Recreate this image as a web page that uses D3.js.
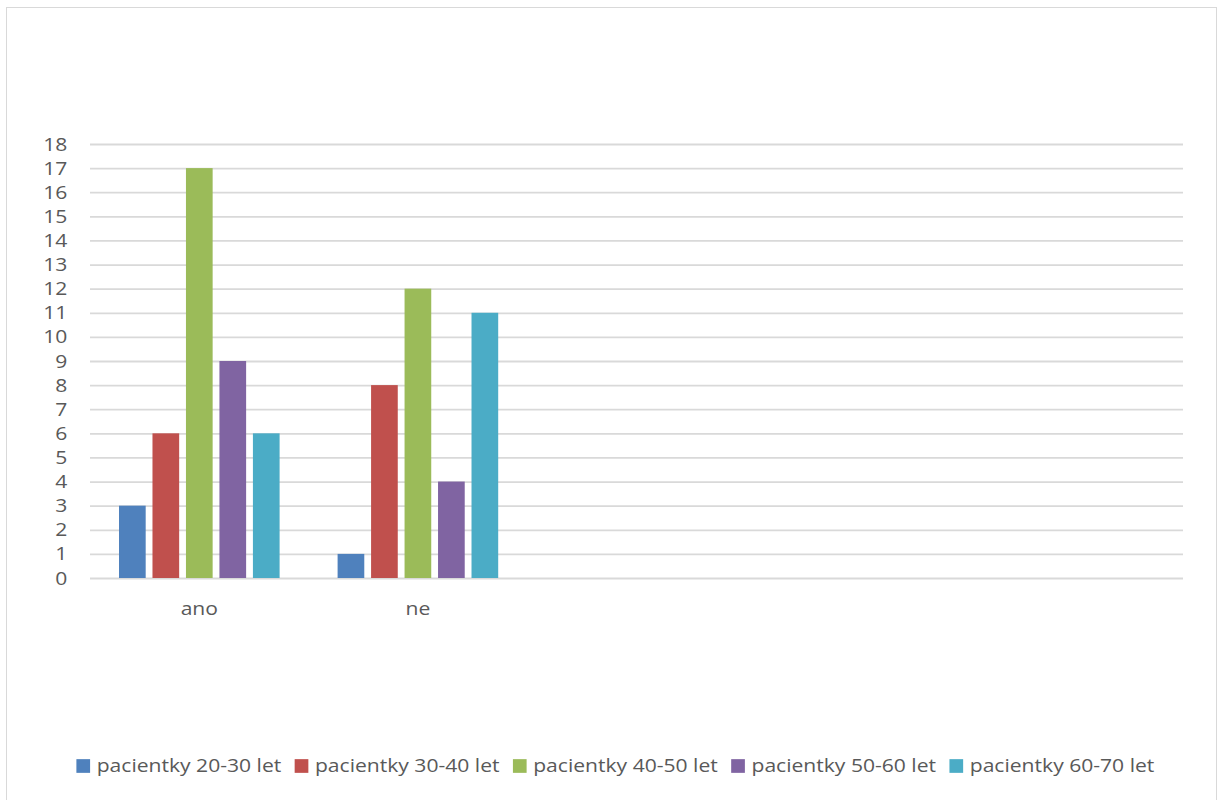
<!DOCTYPE html>
<html>
<head>
<meta charset="utf-8">
<script src="https://cdn.jsdelivr.net/npm/d3@7"></script>
<style>
  html, body { margin: 0; padding: 0; background: #fff; }
  svg { display: block; font-family: "Open Sans", "Noto Sans", sans-serif; }
</style>
</head>
<body>
<svg id="chart" width="1222" height="800"></svg>
<script>
// Answer categories (the last three slots are empty placeholders)
const categories = ["ano", "ne", "", " ", "  "];
// Age groups shown as series
const seriesNames = ["pacientky 20-30 let", "pacientky 30-40 let", "pacientky 40-50 let", "pacientky 50-60 let", "pacientky 60-70 let"];
// Counts per series, one value per category (empty categories have no bars)
const values20_30 = [3, 1];
const values30_40 = [6, 8];
const values40_50 = [17, 12];
const values50_60 = [9, 4];
const values60_70 = [6, 11];
const yTicks = d3.range(0, 19);

const seriesValues = [values20_30, values30_40, values40_50, values50_60, values60_70];
const colors = ["#4F81BD", "#C0504D", "#9BBB59", "#8064A2", "#4BACC6"];
const textColor = "#595959";
const fontSize = "19px";
const stretch = 1.11;   // text is drawn slightly widened

const svg = d3.select("#chart");

// outer frame
svg.append("rect")
  .attr("x", 6.5).attr("y", 7.5)
  .attr("width", 1210).attr("height", 820)
  .attr("fill", "#fff").attr("stroke", "#D9D9D9").attr("stroke-width", 1);

const plot = { left: 90, right: 1183, top: 144, bottom: 578 };

const y = d3.scaleLinear().domain([0, 18]).range([plot.bottom, plot.top]);
const x0 = d3.scaleBand().domain(categories).range([plot.left, plot.right]).padding(0);
const groupPad = 29;
const x1 = d3.scaleBand().domain(d3.range(seriesNames.length))
  .range([groupPad, x0.bandwidth() - groupPad]).paddingInner(0.203).paddingOuter(0);

// gridlines
const grid = svg.append("g")
  .attr("transform", `translate(${plot.left},0)`)
  .call(d3.axisLeft(y).tickValues(yTicks).tickSize(-(plot.right - plot.left)).tickFormat(""));
grid.select(".domain").remove();
grid.selectAll(".tick line").attr("stroke", "#D9D9D9").attr("stroke-width", 1.8);

// y tick labels
const yAxis = svg.append("g")
  .attr("transform", `translate(${plot.left},0)`)
  .call(d3.axisLeft(y).tickValues(yTicks).tickSize(0).tickPadding(20.5));
yAxis.select(".domain").remove();
yAxis.selectAll("text")
  .attr("fill", textColor)
  .attr("transform", `scale(${stretch},1)`)
  .style("font-size", fontSize).style("font-family", "'Open Sans', sans-serif");

// bars
categories.forEach((cat, ci) => {
  seriesValues.forEach((vals, si) => {
    const v = vals[ci];
    if (v === undefined) return;
    svg.append("rect")
      .attr("x", x0(cat) + x1(si))
      .attr("y", y(v))
      .attr("width", x1.bandwidth())
      .attr("height", y(0) - y(v))
      .attr("fill", colors[si]);
  });
});

// category labels
const xAxis = svg.append("g")
  .attr("transform", `translate(0,${plot.bottom})`)
  .call(d3.axisBottom(x0).tickSize(0).tickPadding(24));
xAxis.select(".domain").remove();
xAxis.selectAll("text")
  .attr("fill", textColor)
  .attr("transform", `scale(${stretch},1)`)
  .style("font-size", fontSize).style("font-family", "'Open Sans', sans-serif");

// legend
const legend = svg.append("g");
const sq = 13.7, gapText = 6.6, gapItem = 13.4;
let cursor = 0;
seriesNames.forEach((name, i) => {
  const g = legend.append("g").attr("transform", `translate(${cursor},0)`);
  g.append("rect").attr("x", 0).attr("y", -sq / 2).attr("width", sq).attr("height", sq).attr("fill", colors[i]);
  const t = g.append("g")
    .attr("transform", `translate(${sq + gapText},0) scale(${stretch},1)`)
    .append("text")
    .attr("x", 0).attr("y", 0).attr("dy", "0.33em")
    .attr("fill", textColor).style("font-size", fontSize)
    .text(name);
  const w = t.node().getComputedTextLength() * stretch;
  cursor += sq + gapText + w + gapItem;
});
const legendWidth = cursor - gapItem;
legend.attr("transform", `translate(${(79 + 1151.7) / 2 - legendWidth / 2},766)`);
</script>
</body>
</html>
